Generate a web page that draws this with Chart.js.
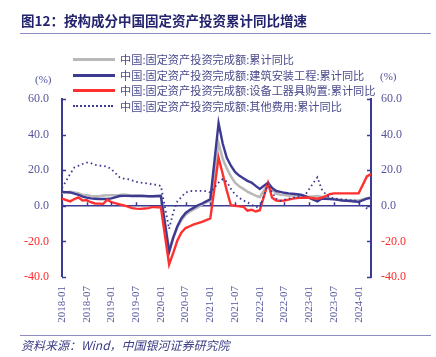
<!DOCTYPE html>
<html>
<head>
<meta charset="utf-8">
<script src="https://cdn.jsdelivr.net/npm/chart.js@4.4.1/dist/chart.umd.min.js"></script>
<style>
  html, body { margin: 0; padding: 0; background: #fff; }
  #wrap { position: relative; width: 436px; height: 357px; overflow: hidden; background: #fff; }
  #c { position: absolute; left: 0; top: 0; }
  .abs { position: absolute; white-space: nowrap; }
  #title { left: 21px; top: 10px; font: bold 13.5px "Noto Sans CJK SC", sans-serif; color: #23236e; }
  #rule1 { left: 20px; top: 33px; width: 411px; height: 1px; background: #8c8cc0; }
  #rule2 { left: 20px; top: 335px; width: 411px; height: 1px; background: #8c8cc0; }
  #source { left: 21px; top: 336px; font: italic 12px "Noto Sans CJK SC", sans-serif; color: #3d3d85; }
  .unit { font: 11px "Liberation Serif", serif; color: #4f4f9a; }
  .leg { left: 73px; height: 16px; }
  .leg .ln { position: absolute; left: 0; width: 42px; }
  .leg .tx { position: absolute; left: 47px; top: 0; font: 11.2px "Noto Sans CJK SC", sans-serif; color: #4a4a8c; line-height: 16px; }
</style>
</head>
<body>
<div id="wrap">
  <canvas id="c" width="436" height="357"></canvas>
  <div id="title" class="abs">图12：按构成分中国固定资产投资累计同比增速</div>
  <div id="rule1" class="abs"></div>
  <div id="rule2" class="abs"></div>
  <div id="source" class="abs">资料来源：Wind，中国银河证券研究院</div>
  <div class="abs unit" style="left:35px; top:73px;">(%)</div>
  <div class="abs unit" style="left:380px; top:70px;">(%)</div>
  <div id="legend"></div>
</div>
<script>
// ---- categories (month-end dates of cumulative data) ----
const dates = [
  "2017-12",
  "2018-02","2018-03","2018-04","2018-05","2018-06","2018-07","2018-08","2018-09","2018-10","2018-11","2018-12",
  "2019-02","2019-03","2019-04","2019-05","2019-06","2019-07","2019-08","2019-09","2019-10","2019-11","2019-12",
  "2020-02","2020-03","2020-04","2020-05","2020-06","2020-07","2020-08","2020-09","2020-10","2020-11","2020-12",
  "2021-02","2021-03","2021-04","2021-05","2021-06","2021-07","2021-08","2021-09","2021-10","2021-11","2021-12",
  "2022-02","2022-03","2022-04","2022-05","2022-06","2022-07","2022-08","2022-09","2022-10","2022-11","2022-12",
  "2023-02","2023-03","2023-04","2023-05","2023-06","2023-07","2023-08","2023-09","2023-10","2023-11","2023-12",
  "2024-02","2024-03"
];

// ---- series values (%) ----
const totalFAI = [
  7.2,
  7.9,7.5,7.0,6.1,6.0,5.5,5.3,5.4,5.7,5.9,5.9,
  6.1,6.3,6.1,5.6,5.8,5.7,5.5,5.4,5.2,5.2,5.4,
  -24.5,-17.5,-12.0,-8.0,-5.0,-3.3,-2.0,-0.7,0.8,2.0,2.9,
  35.0,26.5,21.0,16.5,13.0,11.0,9.5,8.0,6.8,5.7,4.9,
  12.2,9.3,6.8,6.2,6.1,5.7,5.8,5.9,5.8,5.3,5.1,
  5.5,5.1,4.7,4.0,3.8,3.4,3.2,3.1,2.9,2.9,3.0,
  4.2,4.5
];
const construction = [
  7.8,
  7.5,6.8,6.2,5.2,4.6,4.2,4.0,3.8,3.8,3.8,4.2,
  5.5,5.6,5.6,5.5,5.5,5.5,5.5,5.4,5.4,5.5,5.6,
  -26.0,-18.0,-11.5,-7.0,-4.0,-2.3,-1.0,0.3,1.3,2.5,3.7,
  46.5,35.0,27.0,22.5,19.0,17.0,15.5,14.0,13.0,11.2,9.5,
  13.0,10.0,8.3,7.8,7.3,7.0,6.8,6.5,6.2,5.5,4.5,
  2.5,4.0,4.0,3.8,3.6,3.3,3.0,2.8,2.6,2.4,2.2,
  4.0,4.5
];
const equipment = [
  4.0,
  2.5,3.8,4.7,3.0,3.2,2.0,1.3,1.2,1.1,3.4,2.0,
  0.8,0.2,-0.5,-1.3,-1.6,-1.7,-1.5,-1.3,-0.6,-0.9,-0.9,
  -33.0,-26.5,-19.5,-15.0,-12.5,-11.5,-10.5,-9.7,-9.0,-8.0,-7.1,
  27.0,18.0,8.5,0.3,0.0,-0.3,-0.5,-2.7,-2.2,-3.2,-2.5,
  12.8,4.5,3.0,2.8,3.0,3.5,4.0,4.3,4.5,4.7,4.5,
  4.0,4.5,5.5,6.5,7.0,7.0,7.0,7.0,7.0,7.0,7.0,
  16.5,17.8
];
const otherCost = [
  10.0,
  18.0,21.5,22.5,23.5,24.3,24.0,23.0,22.6,22.4,22.0,20.5,
  16.0,15.3,15.0,14.3,13.5,13.0,12.8,12.5,12.0,11.8,11.2,
  -13.0,-3.7,2.5,5.0,7.5,8.2,8.4,8.4,8.4,8.2,7.5,
  13.0,15.0,13.5,9.5,6.5,4.5,3.0,2.0,0.5,-0.5,-1.0,
  12.5,7.5,4.0,2.8,3.5,4.0,4.5,5.0,5.5,6.0,9.5,
  16.0,9.4,6.5,4.7,4.2,3.8,3.6,3.4,3.2,3.0,1.8,
  -1.5,-2.5
];

// ---- labels / ticks ----
const seriesNames = [
  "中国:固定资产投资完成额:累计同比",
  "中国:固定资产投资完成额:建筑安装工程:累计同比",
  "中国:固定资产投资完成额:设备工器具购置:累计同比",
  "中国:固定资产投资完成额:其他费用:累计同比"
];
const xTickLabels = ["2018-01","2018-07","2019-01","2019-07","2020-01","2020-07","2021-01","2021-07","2022-01","2022-07","2023-01","2023-07","2024-01"];
const yTickValues = [-40, -20, 0, 20, 40, 60];

// month-end of YYYY-MM -> months since 2018-01-01 (start of following month)
function monthPos(s) { const [y, m] = s.split("-").map(Number); return (y - 2018) * 12 + m; }
function labelPos(s) { const [y, m] = s.split("-").map(Number); return (y - 2018) * 12 + (m - 1); }
const xTickValues = xTickLabels.map(labelPos);
const xMin = 0, xMax = monthPos(dates[dates.length - 1]);

const NAVY = "#3d3a92", GRAY = "#b9b9b9", RED = "#ff3030", AXIS = "#3d3a92";
const TICKNAVY = "#55559c", TICKRED = "#ff2a2a";
const colors = [GRAY, NAVY, RED, NAVY];
const dashes = [[], [], [], [1.6, 3]];
const widths = [2.6, 2.4, 2.4, 1.8];
const series = [totalFAI, construction, equipment, otherCost];
const orders = [4, 3, 2, 1];

// HTML legend
const legendTops = [51, 66.5, 82, 97.5];
const legendEl = document.getElementById("legend");
seriesNames.forEach((n, i) => {
  const row = document.createElement("div");
  row.className = "abs leg";
  row.style.top = legendTops[i] + "px";
  const ln = document.createElement("div");
  ln.className = "ln";
  if (i === 3) { ln.style.top = "7px"; ln.style.borderTop = "2px dotted " + NAVY; ln.style.width = "40px"; }
  else { ln.style.top = "7px"; ln.style.height = "3px"; ln.style.background = colors[i]; }
  const tx = document.createElement("div");
  tx.className = "tx";
  tx.textContent = n;
  row.appendChild(ln); row.appendChild(tx);
  legendEl.appendChild(row);
});

const axisMarks = {
  id: "axisMarks",
  afterDatasetsDraw(chart) {
    const { ctx, chartArea: a, scales: { x, y } } = chart;
    ctx.save();
    ctx.strokeStyle = AXIS;
    ctx.lineWidth = 1.5;
    const y0 = y.getPixelForValue(0);
    ctx.beginPath();
    xTickValues.forEach(v => {
      const px = Math.round(x.getPixelForValue(v)) + 0.5;
      ctx.moveTo(px, y0); ctx.lineTo(px, y0 - 3.5);
    });
    yTickValues.forEach(v => {
      const py = Math.round(y.getPixelForValue(v)) + 0.5;
      ctx.moveTo(a.left, py); ctx.lineTo(a.left + 4, py);
      ctx.moveTo(a.right, py); ctx.lineTo(a.right - 4, py);
    });
    ctx.stroke();
    ctx.restore();
  }
};

const yTickCommon = {
  min: -40, max: 60,
  afterBuildTicks: s => { s.ticks = yTickValues.map(v => ({ value: v })); },
};

new Chart(document.getElementById("c"), {
  type: "line",
  data: {
    datasets: series.map((arr, i) => ({
      label: seriesNames[i],
      data: dates.map((d, k) => ({ x: monthPos(d), y: arr[k] })),
      borderColor: colors[i],
      backgroundColor: colors[i],
      borderWidth: widths[i],
      borderDash: dashes[i],
      pointRadius: 0,
      tension: 0,
      fill: false,
      order: orders[i],
      yAxisID: "y"
    }))
  },
  options: {
    responsive: false,
    devicePixelRatio: 1,
    animation: false,
    layout: { padding: { top: 99, left: 0, right: 0, bottom: 0 } },
    plugins: { legend: { display: false }, tooltip: { enabled: false }, title: { display: false } },
    scales: {
      x: {
        type: "linear",
        position: "bottom",
        min: xMin, max: xMax,
        afterBuildTicks: s => { s.ticks = xTickValues.map(v => ({ value: v })); },
        afterFit: s => { s.height = 80; },
        grid: { display: false, drawTicks: false },
        border: { display: false },
        ticks: {
          autoSkip: false,
          maxRotation: 90, minRotation: 90,
          padding: 9,
          color: TICKNAVY,
          font: { family: "Liberation Serif", size: 11 },
          callback: (v, i) => xTickLabels[i]
        }
      },
      y: Object.assign({}, yTickCommon, {
        position: "left",
        afterFit: s => { s.width = 62; },
        grid: {
          display: true, drawTicks: false, drawOnChartArea: true,
          color: c => (c.tick && c.tick.value === 0 ? AXIS : "rgba(0,0,0,0)"),
          lineWidth: c => (c.tick && c.tick.value === 0 ? 1.6 : 0)
        },
        border: { display: true, color: AXIS, width: 2 },
        ticks: {
          padding: 13,
          color: c => (c.tick.value < 0 ? TICKRED : TICKNAVY),
          font: { family: "Liberation Serif", size: 12 },
          callback: v => v.toFixed(1)
        }
      }),
      y2: Object.assign({}, yTickCommon, {
        position: "right",
        afterFit: s => { s.width = 65; },
        grid: { display: false, drawTicks: false },
        border: { display: true, color: AXIS, width: 2 },
        ticks: {
          padding: 10,
          color: c => (c.tick.value < 0 ? TICKRED : TICKNAVY),
          font: { family: "Liberation Serif", size: 12 },
          callback: v => v.toFixed(1)
        }
      })
    }
  },
  plugins: [axisMarks]
});
</script>
</body>
</html>
